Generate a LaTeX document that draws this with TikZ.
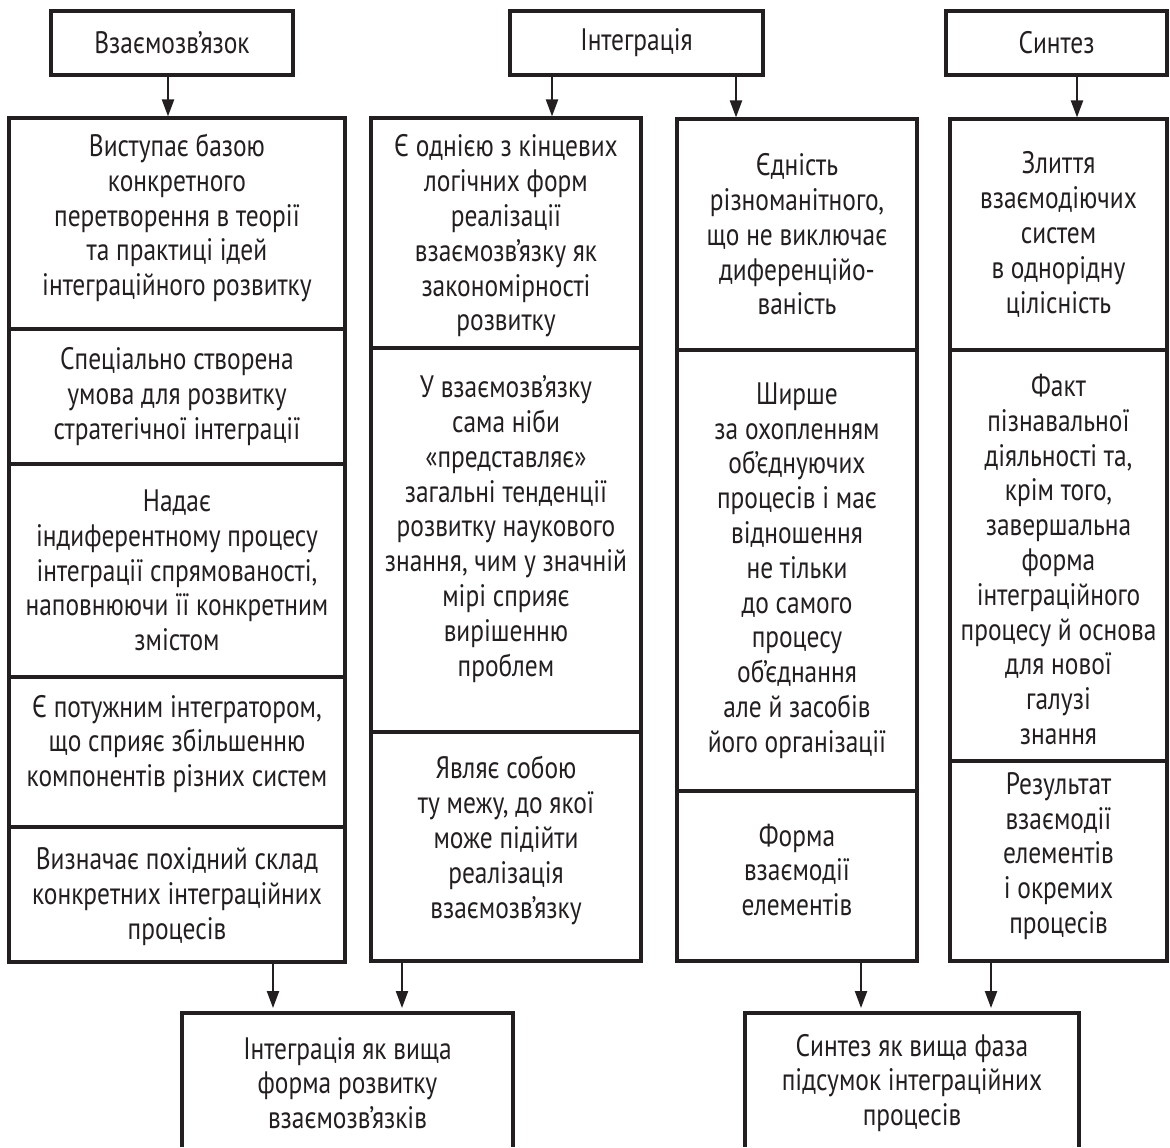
\documentclass[tikz,border=0pt]{standalone}
\usepackage{fontspec}
\setmainfont{PT Sans}[FakeStretch=0.82]
\usetikzlibrary{arrows.meta}
\definecolor{ink}{RGB}{35,31,32}
\tikzset{
  cell/.style={draw=ink, line width=1.6pt, anchor=north west, inner sep=0pt, outer sep=0pt},
  txt/.style={inner sep=0pt, align=center, text=ink, font=\fontsize{15.5}{17.4}\selectfont},
  box/.style={cell, align=center, text=ink, font=\fontsize{15.5}{17.4}\selectfont},
  frame/.style={draw=ink, line width=1.6pt},
  arr/.style={draw=ink, line width=1.1pt, -{Triangle[length=8.5pt,width=6pt]}},
}
\begin{document}
\begin{tikzpicture}[x=0.5pt,y=-0.5pt]
\useasboundingbox (0,0) rectangle (1170,1147);
% top boxes
\node[box, minimum width=121pt, minimum height=32pt] (t1) at (51,11) {Взаємозв’язок};
\node[box, minimum width=126.5pt, minimum height=32pt] (t2) at (510,11) {Інтеграція};
\node[box, minimum width=110.5pt, minimum height=32pt] (t3) at (946,11) {Синтез};
% column 1
\node[cell, minimum width=168pt, minimum height=105.5pt] (c1a) at (9,118) {};
\node[cell, minimum width=168pt, minimum height=67.5pt] (c1b) at (9,329) {};
\node[cell, minimum width=168pt, minimum height=106.5pt] (c1c) at (9,464) {};
\node[cell, minimum width=168pt, minimum height=75pt] (c1d) at (9,677) {};
\node[cell, minimum width=168pt, minimum height=67.5pt] (c1e) at (9,827) {};
\node[txt] (c1aT) at ([yshift=2.75pt]c1a.center) {Виступає базою\\конкретного\\перетворення в теорії\\та практиці ідей\\інтеграційного розвитку};
\node[txt] (c1bT) at (c1b.center) {Спеціально створена\\умова для розвитку\\стратегічної інтеграції};
\node[txt] (c1cT) at (c1c.center) {Надає\\індиферентному процесу\\інтеграції спрямованості,\\наповнюючи її конкретним\\змістом};
\node[txt] (c1dT) at ([yshift=4pt]c1d.center) {Є потужним інтегратором,\\що сприяє збільшенню\\компонентів різних систем};
\node[txt] (c1eT) at ([yshift=-1pt]c1e.center) {Визначає похідний склад\\конкретних інтеграційних\\процесів};
% column 2
\node[cell, minimum width=135pt, minimum height=115pt] (c2a) at (371,118) {};
\node[cell, minimum width=135pt, minimum height=192pt] (c2b) at (371,348) {};
\node[cell, minimum width=135pt, minimum height=114.5pt] (c2c) at (371,732) {};
\node[txt] (c2aT) at ([yshift=-1.5pt]c2a.center) {Є однією з кінцевих\\логічних форм\\реалізації\\взаємозв’язку як\\закономірності\\розвитку};
\node[txt] (c2bT) at ([yshift=5.5pt]c2b.center) {У взаємозв’язку\\сама ніби\\«представляє»\\загальні тенденції\\розвитку наукового\\знання, чим у значній\\мірі сприяє\\вирішенню\\проблем};
\node[txt] (c2cT) at ([yshift=3pt]c2c.center) {Являє собою\\ту межу, до якої\\може підійти\\реалізація\\взаємозв’язку};
% column 3
\node[cell, minimum width=120pt, minimum height=115.5pt] (c3a) at (677,119) {};
\node[cell, minimum width=120pt, minimum height=220.5pt] (c3b) at (677,350) {};
\node[cell, minimum width=120pt, minimum height=85pt] (c3c) at (677,791) {};
\node[txt] (c3aT) at (c3a.center) {Єдність\\різноманітного,\\що не виключає\\диференційо-\\ваність};
\node[txt] (c3bT) at (c3b.center) {Ширше\\за охопленням\\об’єднуючих\\процесів і має\\відношення\\не тільки\\до самого\\процесу\\об’єднання\\але й засобів\\його організації};
\node[txt] (c3cT) at ([yshift=3pt]c3c.center) {Форма\\взаємодії\\елементів};
% column 4
\node[cell, minimum width=108.5pt, minimum height=115.5pt] (c4a) at (950,119) {};
\node[cell, minimum width=108.5pt, minimum height=205.5pt] (c4b) at (950,350) {};
\node[cell, minimum width=108.5pt, minimum height=100pt] (c4c) at (950,761) {};
\node[txt] (c4aT) at (c4a.center) {Злиття\\взаємодіючих\\систем\\в однорідну\\цілісність};
\node[txt] (c4bT) at ([yshift=-2pt]c4b.center) {Факт\\пізнавальної\\діяльності та,\\крім того,\\завершальна\\форма\\інтеграційного\\процесу й основа\\для нової\\галузі\\знання};
\node[txt] (c4cT) at ([yshift=2.5pt]c4c.center) {Результат\\взаємодії\\елементів\\і окремих\\процесів};
% bottom boxes (cut by the lower edge)
\node[cell, draw=none, minimum width=165.5pt, minimum height=67pt] (b1) at (182,1013) {};
\node[cell, draw=none, minimum width=167pt, minimum height=67pt] (b2) at (745,1013) {};
\node[txt] (b1T) at ([yshift=-1.5pt]b1.center) {Інтеграція як вища\\форма розвитку\\взаємозв’язків};
\node[txt] (b2T) at ([yshift=-1.5pt]b2.center) {Синтез як вища фаза\\підсумок інтеграційних\\процесів};
\draw[frame] (b1.south west) -- (b1.north west) -- (b1.north east) -- (b1.south east);
\draw[frame] (b2.south west) -- (b2.north west) -- (b2.north east) -- (b2.south east);
% top arrows
\coordinate (a1) at ([xshift=58.5pt]t1.south west);
\coordinate (a2) at ([xshift=21pt]t2.south west);
\coordinate (a3) at ([xshift=113pt]t2.south west);
\coordinate (a4) at ([xshift=65.5pt]t3.south west);
\draw[arr, shorten >=0.8pt] (a1) -- (a1 |- c1a.north);
\draw[arr, shorten >=0.8pt] (a2) -- (a2 |- c2a.north);
\draw[arr, shorten >=0.8pt] (a3) -- (a3 |- c3a.north);
\draw[arr, shorten >=0.8pt] (a4) -- (a4 |- c4a.north);
% bottom arrows
\coordinate (d1) at ([xshift=132pt]c1e.south west);
\coordinate (d2) at ([xshift=15.5pt]c2c.south west);
\coordinate (d3) at ([xshift=92pt]c3c.south west);
\coordinate (d4) at ([xshift=20.5pt]c4c.south west);
\draw[arr, shorten >=2.5pt] (d1) -- (d1 |- b1.north);
\draw[arr, shorten >=2.5pt] (d2) -- (d2 |- b1.north);
\draw[arr, shorten >=2.5pt] (d3) -- (d3 |- b2.north);
\draw[arr, shorten >=2.5pt] (d4) -- (d4 |- b2.north);
\end{tikzpicture}
\end{document}
